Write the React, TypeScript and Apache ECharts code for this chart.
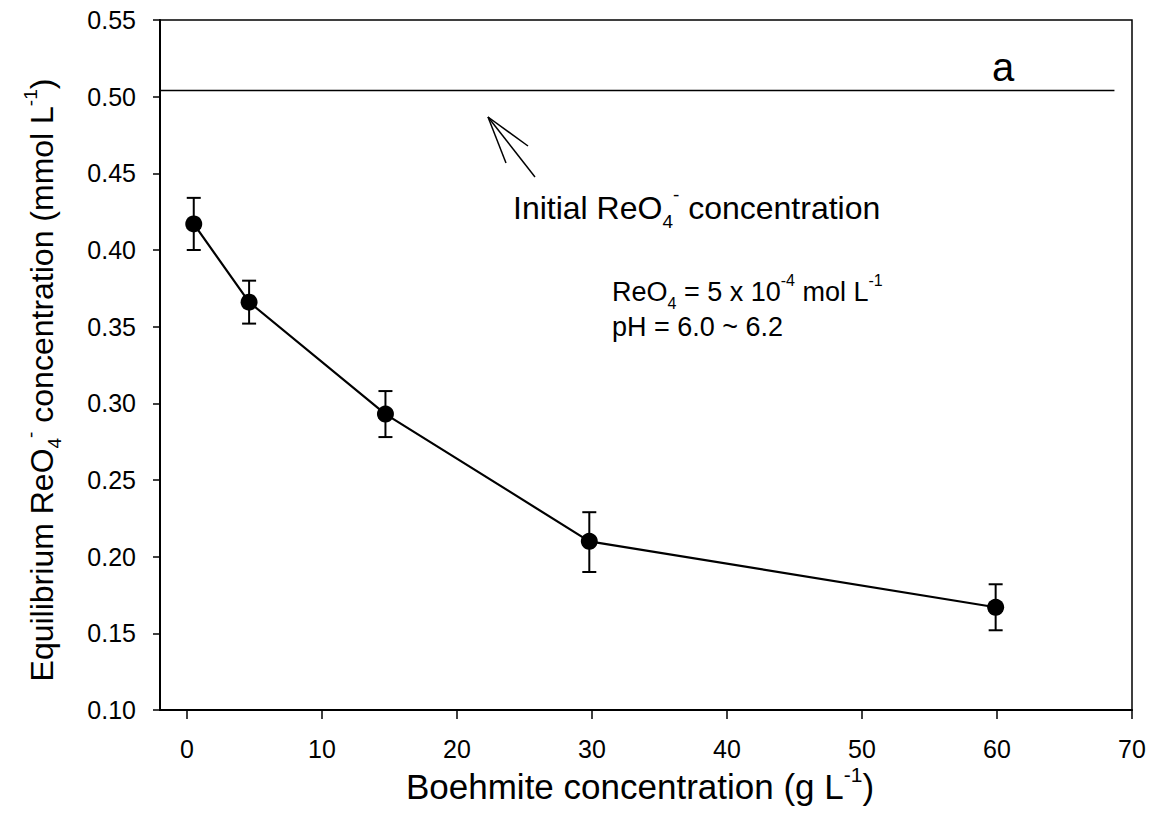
import React, { useEffect, useRef } from "react";
import * as echarts from "echarts";

const boehmite = [0.5, 4.6, 14.7, 29.8, 59.9];
const eqConc = [0.417, 0.366, 0.293, 0.21, 0.167];
const errLow = [0.4, 0.352, 0.278, 0.19, 0.152];
const errHigh = [0.434, 0.38, 0.308, 0.229, 0.182];
const initialConc = 0.504;
const initialLineX = [-2, 68.7];
const xTicks = [0, 10, 20, 30, 40, 50, 60, 70];

const FONT = "'Liberation Sans', Arial, Helvetica, sans-serif";

function richSet(size: number, lhf = 1.45) {
  const lh = Math.round(size * lhf);
  const s = Math.round(size * 0.6);
  return {
    n: { fontSize: size, fontFamily: FONT, fill: "#000", lineHeight: lh, verticalAlign: "middle" },
    sup: { fontSize: s, fontFamily: FONT, fill: "#000", lineHeight: s, verticalAlign: "top" },
    sub: { fontSize: s, fontFamily: FONT, fill: "#000", lineHeight: s, verticalAlign: "bottom" },
  };
}

export default function App() {
  const ref = useRef<HTMLDivElement>(null);
  useEffect(() => {
    if (!ref.current) return;
    const chart = echarts.init(ref.current, null, { renderer: "svg" });
    const renderItem = (params: any, api: any) => {
      const x = api.value(0);
      const lo = api.coord([x, api.value(1)]);
      const hi = api.coord([x, api.value(2)]);
      const w = 7;
      const st = { stroke: "#000", lineWidth: 2 };
      return {
        type: "group",
        children: [
          { type: "line", shape: { x1: lo[0], y1: lo[1], x2: hi[0], y2: hi[1] }, style: st },
          { type: "line", shape: { x1: lo[0] - w, y1: lo[1], x2: lo[0] + w, y2: lo[1] }, style: st },
          { type: "line", shape: { x1: hi[0] - w, y1: hi[1], x2: hi[0] + w, y2: hi[1] }, style: st },
        ],
      };
    };
    chart.setOption({
      animation: false,
      backgroundColor: "#fff",
      textStyle: { fontFamily: FONT },
      grid: { left: 160, right: 27, top: 20, bottom: 123, show: true, borderColor: "#000", borderWidth: 1.5 },
      xAxis: {
        type: "value",
        min: -2,
        max: 70,
        axisLine: { show: true, onZero: false, lineStyle: { color: "#000", width: 2 } },
        axisTick: { show: true, customValues: xTicks, length: 9, lineStyle: { color: "#000", width: 1.5 } },
        axisLabel: { customValues: xTicks, fontSize: 25, color: "#000", margin: 26, fontFamily: FONT },
        splitLine: { show: false },
      },
      yAxis: {
        type: "value",
        min: 0.1,
        max: 0.55,
        interval: 0.05,
        axisLine: { show: true, onZero: false, lineStyle: { color: "#000", width: 2 } },
        axisTick: { show: true, length: 7, lineStyle: { color: "#000", width: 1.5 } },
        axisLabel: { fontSize: 25, color: "#000", margin: 24, fontFamily: FONT, formatter: (v: number) => v.toFixed(2) },
        splitLine: { show: false },
      },
      series: [
        {
          type: "custom",
          data: boehmite.map((x, i) => [x, errLow[i], errHigh[i]]),
          encode: { x: 0, y: [1, 2] },
          renderItem,
          z: 2,
        },
        {
          type: "line",
          data: boehmite.map((x, i) => [x, eqConc[i]]),
          symbol: "circle",
          symbolSize: 17,
          itemStyle: { color: "#000" },
          lineStyle: { color: "#000", width: 2.2 },
          z: 3,
        },
        {
          type: "line",
          data: initialLineX.map((x) => [x, initialConc]),
          symbol: "none",
          lineStyle: { color: "#000", width: 1.5 },
          z: 2,
        },
      ],
      graphic: [
        {
          type: "text",
          x: 42,
          y: 380,
          rotation: Math.PI / 2,
          style: {
            text: "{n|Equilibrium ReO}{sub|4}{sup|-}{n| concentration (mmol L}{sup|-1}{n|)}",
            rich: richSet(32, 1.35),
            align: "center",
            verticalAlign: "middle",
          },
        },
        {
          type: "text",
          x: 640,
          y: 786,
          style: {
            text: "{n|Boehmite concentration (g L}{sup|-1}{n|)}",
            rich: richSet(35, 1.25),
            align: "center",
            verticalAlign: "middle",
          },
        },
        {
          type: "text",
          x: 1003,
          y: 67,
          style: { text: "a", font: `40px ${FONT}`, fill: "#000", align: "center", verticalAlign: "middle" },
        },
        {
          type: "text",
          x: 513,
          y: 208,
          style: {
            text: "{n|Initial ReO}{sub|4}{sup|-}{n| concentration}",
            rich: richSet(32),
            align: "left",
            verticalAlign: "middle",
          },
        },
        {
          type: "text",
          x: 612,
          y: 292,
          style: {
            text: "{n|ReO}{sub|4}{n| = 5 x 10}{sup|-4}{n| mol L}{sup|-1}",
            rich: richSet(27),
            align: "left",
            verticalAlign: "middle",
          },
        },
        {
          type: "text",
          x: 612,
          y: 327,
          style: {
            text: "{n|pH = 6.0 ~ 6.2}",
            rich: richSet(27),
            align: "left",
            verticalAlign: "middle",
          },
        },
        { type: "line", shape: { x1: 488, y1: 117, x2: 528, y2: 146 }, style: { stroke: "#000", lineWidth: 1.5 } },
        { type: "line", shape: { x1: 488, y1: 117, x2: 506, y2: 163 }, style: { stroke: "#000", lineWidth: 1.5 } },
        { type: "line", shape: { x1: 488, y1: 117, x2: 535, y2: 177 }, style: { stroke: "#000", lineWidth: 1.5 } },
      ],
    });
    return () => chart.dispose();
  }, []);
  return <div ref={ref} style={{ position: "fixed", left: 0, top: 0, width: 1159, height: 833 }} />;
}
